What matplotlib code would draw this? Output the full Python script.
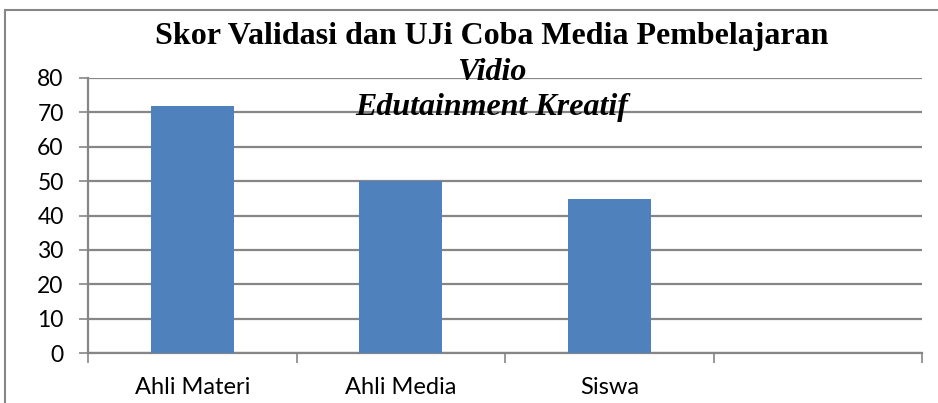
import numpy as np
import matplotlib.pyplot as plt
from matplotlib.patches import Rectangle

# data
categories = ['Ahli Materi', 'Ahli Media', 'Siswa', '']
scores = [72, 50, 44.7, 0]
y_ticks = [0, 10, 20, 30, 40, 50, 60, 70, 80]

bar_color = '#4F81BD'
grid_color = '#868686'

fig = plt.figure(figsize=(9.38, 4.03), dpi=100)
ax = fig.add_axes([88 / 938, 1 - 353 / 403, (922 - 88) / 938, (353 - 78) / 403])

x = np.arange(len(categories))
ax.bar(x[:3], scores[:3], width=0.4, color=bar_color, zorder=3)

ax.set_xlim(-0.5, len(categories) - 0.5)
ax.set_ylim(0, 80)
ax.set_yticks(y_ticks)
ax.yaxis.grid(True, color=grid_color, linewidth=1.6, zorder=0)
ax.set_axisbelow(True)

# category boundaries as major ticks, labels on minor ticks
ax.set_xticks(np.arange(-0.5, len(categories), 1.0))
ax.set_xticklabels([])
ax.set_xticks(x, minor=True)
ax.set_xticklabels(categories, minor=True)
ax.tick_params(axis='x', which='major', length=7, width=1.2, color=grid_color)
ax.tick_params(axis='x', which='minor', length=0, pad=17, labelsize=17)
ax.tick_params(axis='y', length=6.5, width=1.2, color=grid_color, labelsize=16.5, pad=11)
for lab in ax.get_xticklabels(minor=True) + ax.get_yticklabels():
    lab.set_fontfamily('Lato')

for s in ['top', 'right']:
    ax.spines[s].set_visible(False)
for s in ['left', 'bottom']:
    ax.spines[s].set_color(grid_color)
    ax.spines[s].set_linewidth(1.6)

fig.text(492 / 938, 1 - 44 / 403, 'Skor Validasi dan UJi Coba Media Pembelajaran',
         ha='center', va='baseline', fontsize=23, fontweight='bold', family='Liberation Serif')
fig.text(492 / 938, 1 - 80 / 403, 'Vidio', ha='center', va='baseline', fontsize=23,
         fontweight='bold', style='italic', family='Liberation Serif')
fig.text(492 / 938, 1 - 115 / 403, 'Edutainment Kreatif', ha='center', va='baseline',
         fontsize=23, fontweight='bold', style='italic', family='Liberation Serif')

# outer chart border
fig.patches.append(Rectangle((5 / 938, -0.05), 1.05, 1 - 10 / 403 + 0.05,
                             transform=fig.transFigure, fill=False,
                             edgecolor=grid_color, linewidth=1.5))

fig.savefig('out.png', dpi=100)
